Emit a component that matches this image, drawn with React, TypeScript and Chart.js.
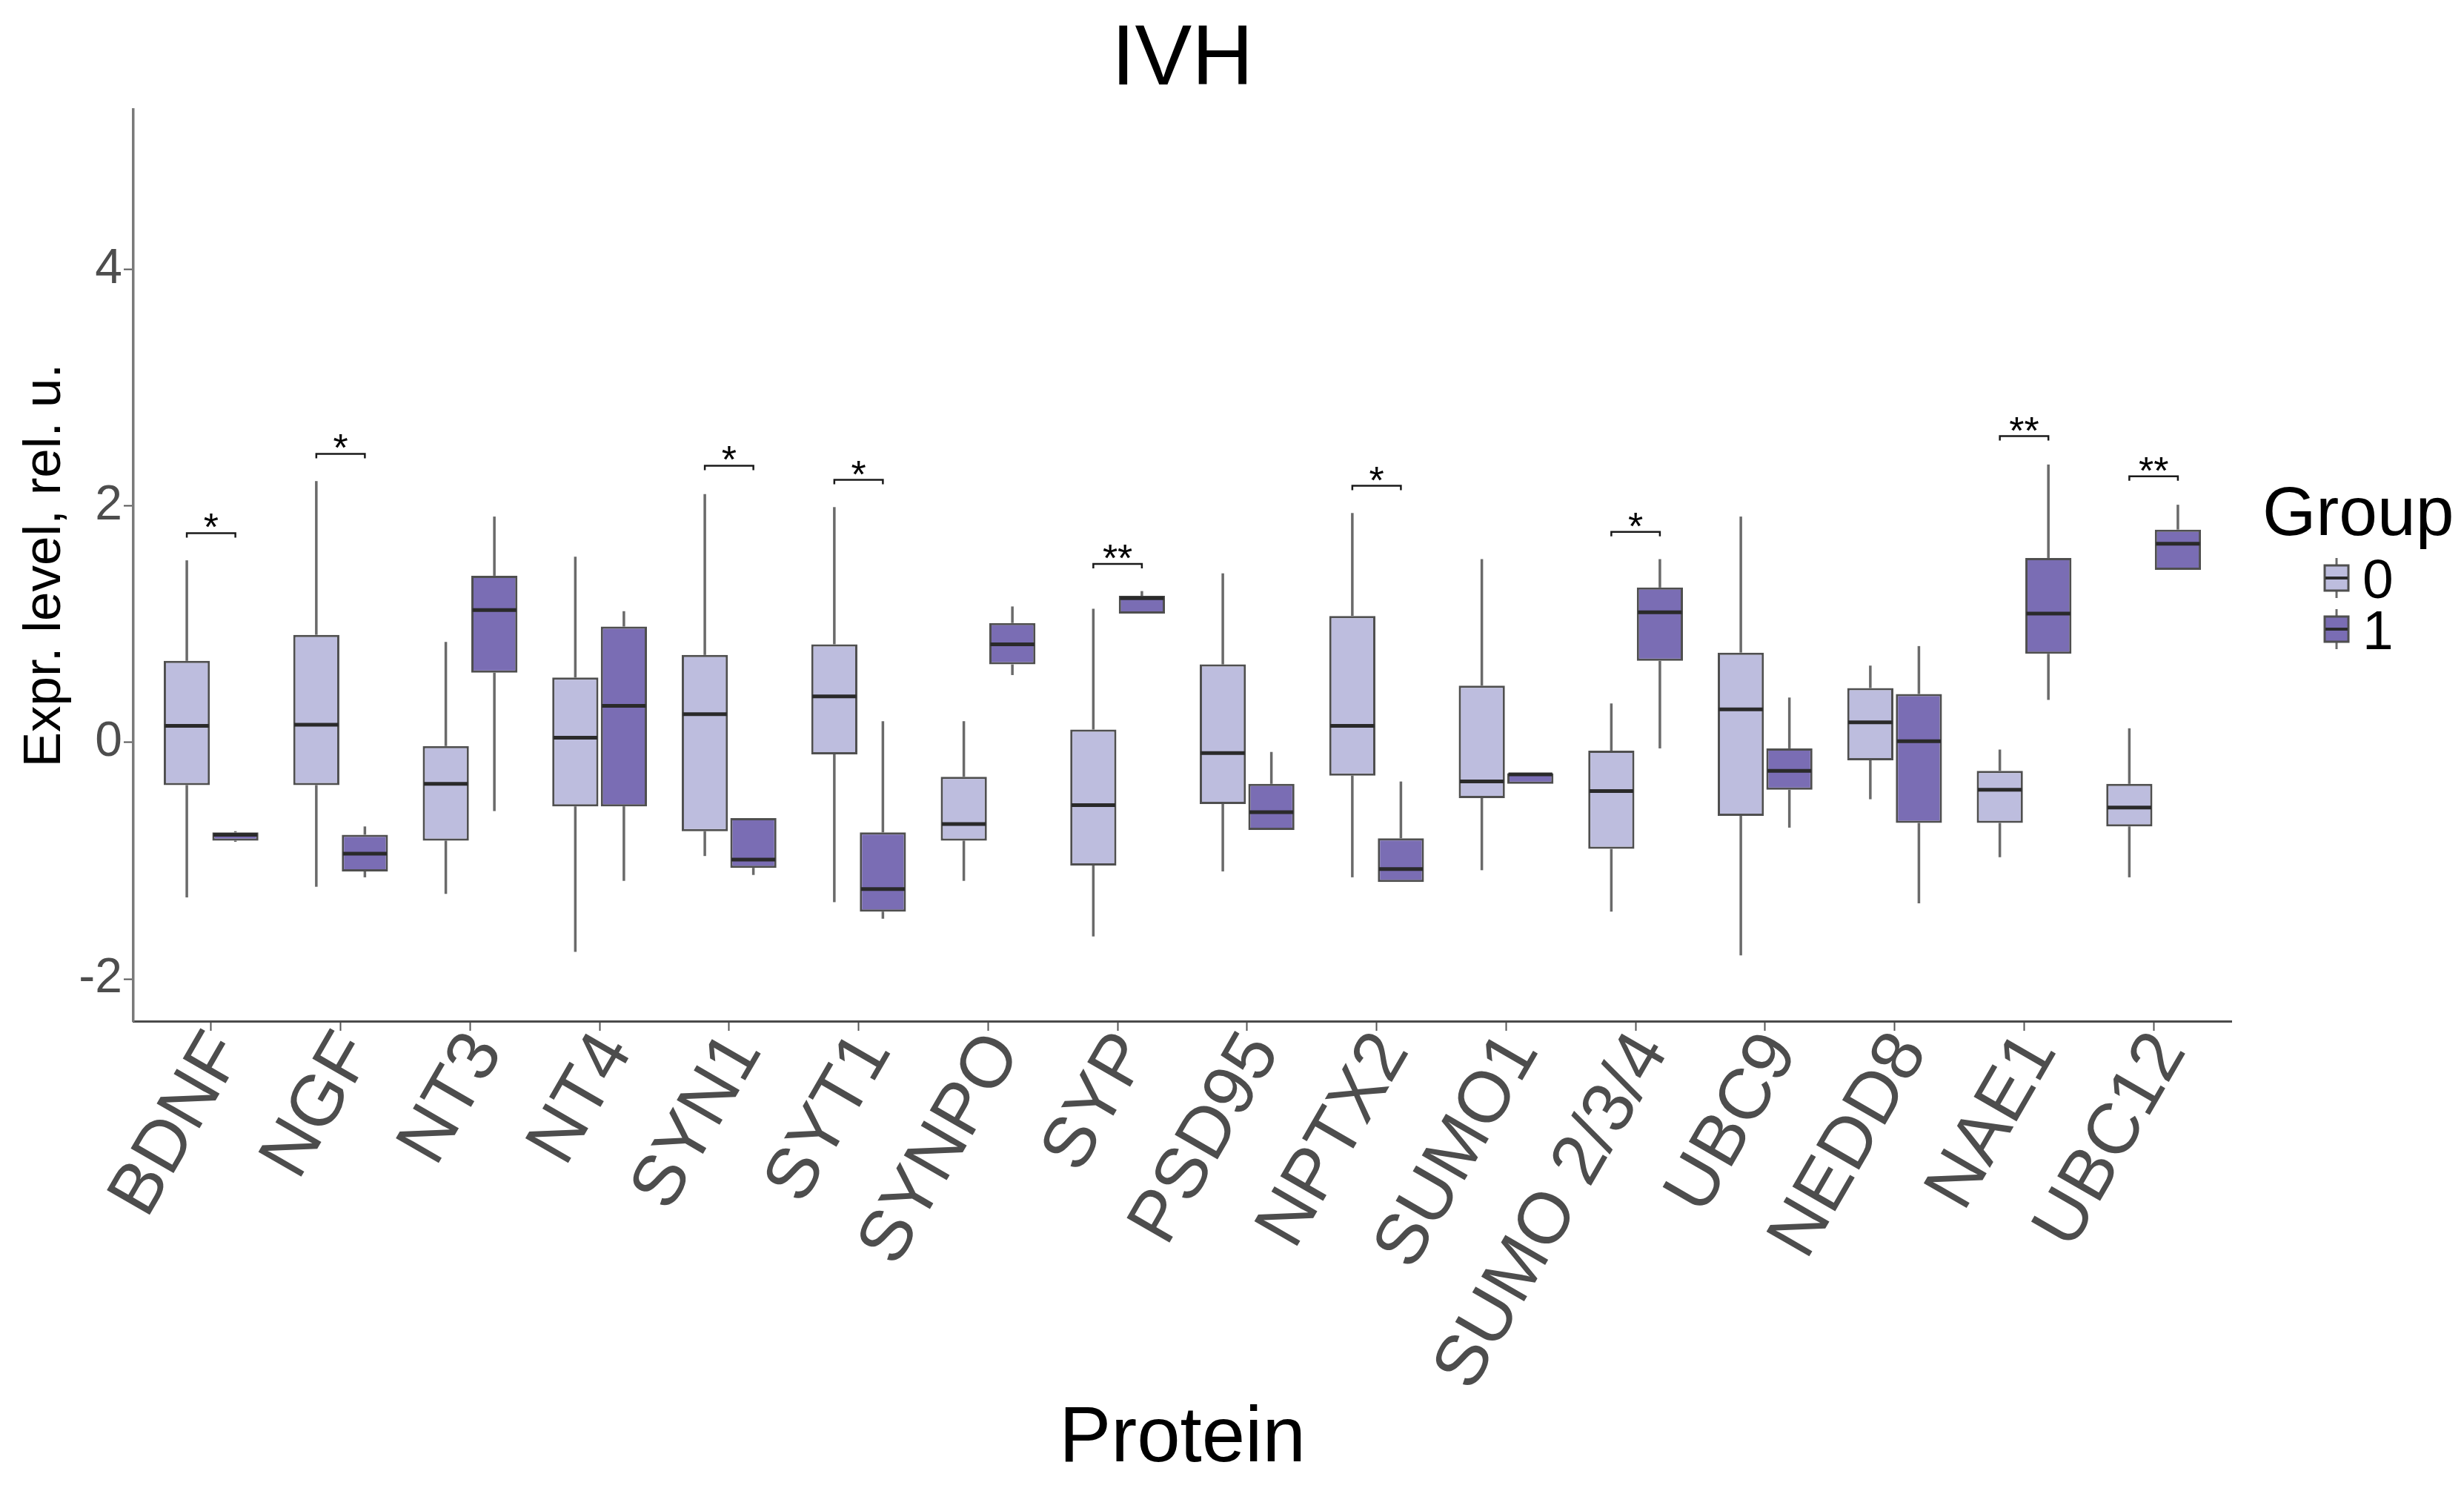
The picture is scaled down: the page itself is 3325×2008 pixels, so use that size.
import React, { useEffect, useRef } from "react";
import { Chart, registerables } from "chart.js";

Chart.register(...registerables);

// ---------- data ----------
const proteins = [
  "BDNF", "NGF", "NT3", "NT4", "SYN1", "SYT1", "SYNPO", "SYP",
  "PSD95", "NPTX2", "SUMO1", "SUMO 2/3/4", "UBC9", "NEDD8", "NAE1", "UBC12",
];

// Group 0 box statistics
const g0Low = [-1.31, -1.22, -1.28, -1.77, -0.96, -1.35, -1.17, -1.64, -1.09, -1.14, -1.08, -1.43, -1.8, -0.48, -0.97, -1.14];
const g0Q1 = [-0.36, -0.36, -0.83, -0.54, -0.75, -0.1, -0.83, -1.04, -0.52, -0.28, -0.47, -0.9, -0.62, -0.15, -0.68, -0.71];
const g0Med = [0.14, 0.15, -0.35, 0.04, 0.24, 0.39, -0.69, -0.53, -0.09, 0.14, -0.33, -0.41, 0.28, 0.17, -0.4, -0.55];
const g0Q3 = [0.69, 0.91, -0.03, 0.55, 0.74, 0.83, -0.29, 0.11, 0.66, 1.07, 0.48, -0.07, 0.76, 0.46, -0.24, -0.35];
const g0High = [1.54, 2.21, 0.85, 1.57, 2.1, 1.99, 0.18, 1.13, 1.43, 1.94, 1.55, 0.33, 1.91, 0.65, -0.06, 0.12];

// Group 1 box statistics
const g1Low = [-0.84, -1.14, -0.58, -1.17, -1.12, -1.49, 0.57, 1.09, -0.74, -1.18, -0.35, -0.05, -0.72, -1.36, 0.36, 1.46];
const g1Q1 = [-0.83, -1.09, 0.59, -0.54, -1.06, -1.43, 0.66, 1.09, -0.74, -1.18, -0.35, 0.69, -0.4, -0.68, 0.75, 1.46];
const g1Med = [-0.78, -0.94, 1.12, 0.31, -0.99, -1.24, 0.83, 1.22, -0.59, -1.07, -0.27, 1.1, -0.24, 0.01, 1.09, 1.68];
const g1Q3 = [-0.76, -0.78, 1.41, 0.98, -0.64, -0.76, 1.01, 1.24, -0.35, -0.81, -0.26, 1.31, -0.05, 0.41, 1.56, 1.8];
const g1High = [-0.75, -0.71, 1.91, 1.11, -0.64, 0.18, 1.15, 1.28, -0.08, -0.33, -0.26, 1.55, 0.38, 0.815, 2.35, 2.01];

// significance brackets
const sigLabels = ["*", "*", "", "", "*", "*", "", "**", "", "*", "", "*", "", "", "**", "**"];
const sigY = [1.77, 2.44, null, null, 2.34, 2.22, null, 1.51, null, 2.17, null, 1.78, null, null, 2.59, 2.25];

const yTicks = [-2, 0, 2, 4];
const groupNames = ["0", "1"];
const chartTitle = "IVH";
const xTitle = "Protein";
const yTitle = "Expr. level, rel. u.";

// ---------- style ----------
const W = 3325;
const H = 2008;
const FONT = "'Liberation Sans', Arial, Helvetica, sans-serif";
const fills = ["#BDBDDE", "#7A6DB4"];
const boxBorder = "#4f4f4f";
const whiskerColor = "#6a6a6a";
const medianColor = "#2a2a2a";

const lowArr = [g0Low, g1Low];
const q1Arr = [g0Q1, g1Q1];
const medArr = [g0Med, g1Med];
const q3Arr = [g0Q3, g1Q3];
const highArr = [g0High, g1High];

function line(ctx: CanvasRenderingContext2D, x1: number, y1: number, x2: number, y2: number) {
  ctx.beginPath();
  ctx.moveTo(x1, y1);
  ctx.lineTo(x2, y2);
  ctx.stroke();
}

const boxPlugin = {
  id: "boxExtras",
  beforeDatasetsDraw(chart: any) {
    const ctx: CanvasRenderingContext2D = chart.ctx;
    const ys = chart.scales.y;
    ctx.save();
    ctx.strokeStyle = whiskerColor;
    ctx.lineWidth = 3.5;
    for (let d = 0; d < 2; d++) {
      const meta = chart.getDatasetMeta(d);
      meta.data.forEach((el: any, i: number) => {
        const x = el.x;
        line(ctx, x, ys.getPixelForValue(highArr[d][i]), x, ys.getPixelForValue(q3Arr[d][i]));
        line(ctx, x, ys.getPixelForValue(q1Arr[d][i]), x, ys.getPixelForValue(lowArr[d][i]));
      });
    }
    ctx.restore();
  },
  afterDatasetsDraw(chart: any) {
    const ctx: CanvasRenderingContext2D = chart.ctx;
    const ys = chart.scales.y;
    const area = chart.chartArea;
    ctx.save();
    // medians
    ctx.strokeStyle = medianColor;
    ctx.lineWidth = 5;
    for (let d = 0; d < 2; d++) {
      const meta = chart.getDatasetMeta(d);
      meta.data.forEach((el: any, i: number) => {
        const half = el.width / 2 - 1.5;
        const y = ys.getPixelForValue(medArr[d][i]);
        line(ctx, el.x - half, y, el.x + half, y);
      });
    }
    // significance brackets
    const m0 = chart.getDatasetMeta(0);
    const m1 = chart.getDatasetMeta(1);
    ctx.strokeStyle = "#1a1a1a";
    ctx.lineWidth = 2.5;
    ctx.fillStyle = "#000";
    ctx.font = `52px ${FONT}`;
    ctx.textAlign = "center";
    ctx.textBaseline = "alphabetic";
    sigLabels.forEach((lab, i) => {
      const v = sigY[i];
      if (!lab || v === null) return;
      const x0 = m0.data[i].x;
      const x1 = m1.data[i].x;
      const y = ys.getPixelForValue(v);
      ctx.beginPath();
      ctx.moveTo(x0, y + 6);
      ctx.lineTo(x0, y);
      ctx.lineTo(x1, y);
      ctx.lineTo(x1, y + 6);
      ctx.stroke();
      ctx.fillText(lab, (x0 + x1) / 2, y + 10);
    });

    // title
    ctx.fillStyle = "#000";
    ctx.font = `115px ${FONT}`;
    ctx.textAlign = "center";
    ctx.textBaseline = "alphabetic";
    ctx.fillText(chartTitle, (area.left + area.right) / 2, 114);

    // legend
    const lx = area.right + 42;
    const cy = (area.top + area.bottom) / 2;
    ctx.textAlign = "left";
    ctx.font = `93px ${FONT}`;
    ctx.fillText("Group", lx, cy - 41);
    const keyX = area.right + 142;
    groupNames.forEach((g, k) => {
      const ky = cy + 17 + k * 69;
      ctx.strokeStyle = whiskerColor;
      ctx.lineWidth = 3;
      line(ctx, keyX, ky - 27, keyX, ky + 27);
      ctx.fillStyle = fills[k];
      ctx.fillRect(keyX - 16, ky - 17, 32, 34);
      ctx.strokeStyle = boxBorder;
      ctx.lineWidth = 3;
      ctx.strokeRect(keyX - 16, ky - 17, 32, 34);
      ctx.strokeStyle = medianColor;
      ctx.lineWidth = 4;
      line(ctx, keyX - 15, ky, keyX + 15, ky);
      ctx.fillStyle = "#000";
      ctx.font = `75px ${FONT}`;
      ctx.fillText(g, area.right + 177, ky + 27);
    });
    ctx.restore();
  },
};

export default function App() {
  const ref = useRef<HTMLCanvasElement | null>(null);

  useEffect(() => {
    document.body.style.margin = "0";
    const canvas = ref.current;
    if (!canvas) return;
    Chart.defaults.font.family = FONT;

    const datasets = [0, 1].map((d) => ({
      label: groupNames[d],
      data: proteins.map((_, i) => ({ x: i, y: [q1Arr[d][i], q3Arr[d][i]] })),
      backgroundColor: fills[d],
      borderColor: boxBorder,
      borderWidth: 3,
      borderSkipped: false,
      categoryPercentage: 0.75,
      barPercentage: 0.95,
    }));

    const chart = new Chart(canvas, {
      type: "bar",
      data: { datasets: datasets as any },
      options: {
        responsive: false,
        animation: false,
        devicePixelRatio: 1,
        layout: { padding: { top: 148, right: 314, left: 0, bottom: 0 } },
        plugins: {
          legend: { display: false },
          title: { display: false },
          tooltip: { enabled: false },
        },
        scales: {
          x: {
            type: "linear",
            min: -0.6,
            max: 15.6,
            offset: false,
            afterBuildTicks: (s: any) => {
              s.ticks = proteins.map((_, i) => ({ value: i }));
            },
            afterFit: (s: any) => {
              s.height = 630;
            },
            ticks: {
              callback: (v: any) => proteins[Math.round(Number(v))] ?? "",
              minRotation: 60,
              maxRotation: 60,
              autoSkip: false,
              color: "#4d4d4d",
              padding: -16,
              labelOffset: 22,
              font: { family: FONT, size: 97 },
            },
            grid: {
              display: true,
              drawOnChartArea: false,
              drawTicks: true,
              tickLength: 13,
              tickColor: "#555",
              tickWidth: 2,
              offset: false,
            },
            border: { display: true, color: "#4a4a4a", width: 3 },
            title: {
              display: true,
              text: xTitle,
              color: "#000",
              font: { family: FONT, size: 105, lineHeight: 1 },
              padding: { top: 0, bottom: 12 },
            },
          },
          y: {
            type: "linear",
            min: -2.356,
            max: 5.35,
            afterBuildTicks: (s: any) => {
              s.ticks = yTicks.map((v) => ({ value: v }));
            },
            afterFit: (s: any) => {
              s.width = 180;
            },
            ticks: {
              callback: (v: any) => String(v),
              color: "#4d4d4d",
              padding: 2,
              font: { family: FONT, size: 66 },
            },
            grid: {
              display: true,
              drawOnChartArea: false,
              drawTicks: true,
              tickLength: 13,
              tickColor: "#555",
              tickWidth: 2,
            },
            border: { display: true, color: "#7a7a7a", width: 3.5 },
            title: {
              display: true,
              text: yTitle,
              color: "#000",
              font: { family: FONT, size: 71, lineHeight: 1 },
              padding: { top: 26, bottom: 0 },
            },
          },
        },
      } as any,
      plugins: [boxPlugin as any],
    });

    return () => chart.destroy();
  }, []);

  return (
    <div style={{ width: W, height: H, background: "#fff" }}>
      <canvas ref={ref} width={W} height={H} style={{ display: "block", width: W, height: H }} />
    </div>
  );
}
